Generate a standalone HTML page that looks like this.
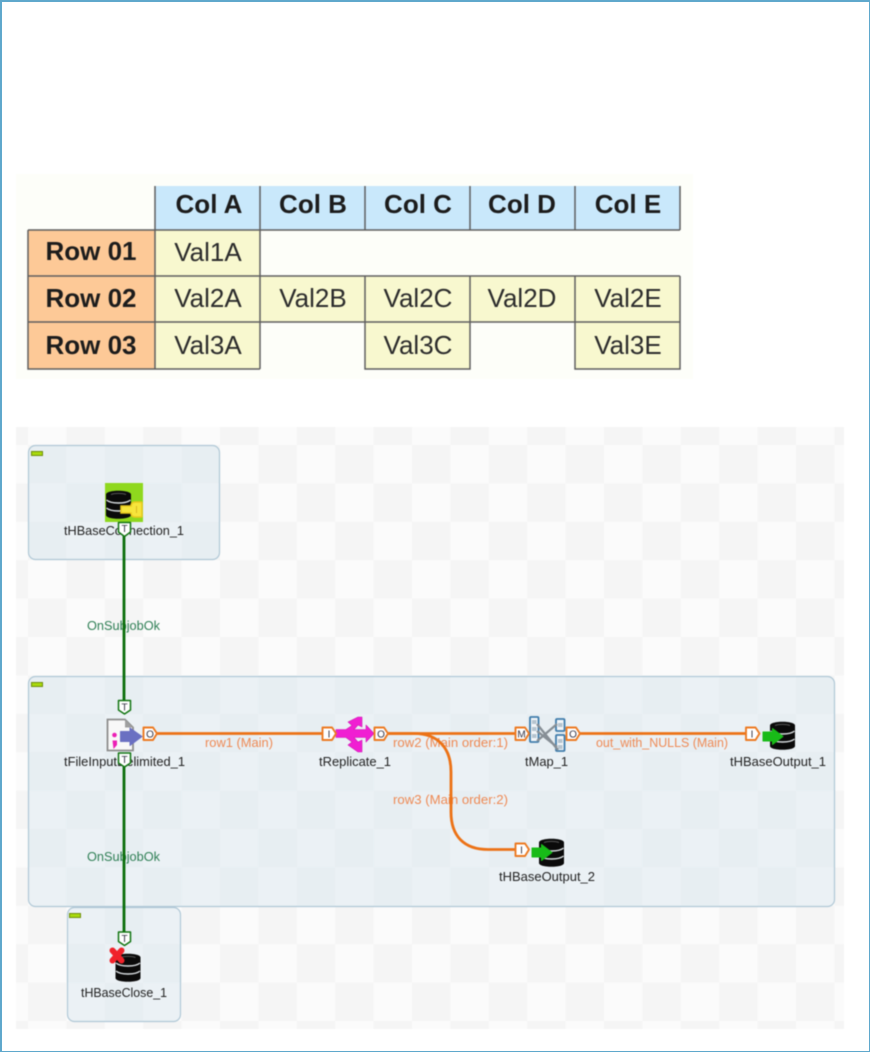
<!DOCTYPE html>
<html lang="en">
<head>
<meta charset="utf-8">
<title>HBase table and Talend job</title>
<style>
html,body{margin:0;padding:0;background:#fff;width:870px;height:1052px;overflow:hidden}
svg{display:block;font-family:"Liberation Sans",sans-serif}
.soft{filter:blur(.45px)}
.b{font-weight:bold;font-size:26px;fill:#1c1c1c;text-anchor:middle}
.v{font-size:26px;fill:#2c2c2c;text-anchor:middle}
.n{font-size:12.5px;fill:#222}
.o{font-size:12.5px;fill:#ee8a55}
.g{font-size:12.5px;fill:#2f7f55}
.p{font-size:10px;text-anchor:middle;fill:#334}
</style>
</head>
<body>
<svg width="870" height="1052" viewBox="0 0 870 1052" xmlns="http://www.w3.org/2000/svg">
<defs>
<pattern id="chk" x="28" y="445" width="76.8" height="76.8" patternUnits="userSpaceOnUse">
<rect width="76.8" height="76.8" fill="#fbfbfb"/>
<rect width="38.4" height="38.4" fill="#f5f5f5"/>
<rect x="38.4" y="38.4" width="38.4" height="38.4" fill="#f5f5f5"/>
</pattern>
<pattern id="chk2" x="28" y="445" width="76.8" height="76.8" patternUnits="userSpaceOnUse">
<rect width="76.8" height="76.8" fill="#ebf1f5"/>
<rect width="38.4" height="38.4" fill="#e7eef2"/>
<rect x="38.4" y="38.4" width="38.4" height="38.4" fill="#e7eef2"/>
</pattern>
<g id="db">
<path d="M0 4.500C0 -.5 25 -.5 25 4.500V25C25 30 0 30 0 25Z" fill="#0a0a0a"/>
<path d="M.5 10C5 14 20 14 24.500 10M.5 18C5 22 20 22 24.500 18" fill="none" stroke="#d8dde0" stroke-width="1.400"/>
<path d="M5 4.500C9 3 16 3 20 4.500" fill="none" stroke="#555" stroke-width="1"/>
</g>
<path id="arr" d="M0 -4.500H9.500V-8L20 0L9.500 8V4.500H0Z" fill="#18bb18" stroke="#18bb18" stroke-width="1" stroke-linejoin="round"/>
</defs>

<rect x="0" y="0" width="870" height="2" fill="#5fa8cc"/>
<rect x="0" y="0" width="2" height="1052" fill="#5fa8cc"/>
<rect x="869" y="0" width="1" height="1052" fill="#5fa8cc"/>
<rect x="0" y="1051" width="870" height="1" fill="#5fa8cc"/>

<g class="soft">
<!-- table -->
<rect x="16" y="174" width="677" height="205" fill="#fdfef9"/>
<rect x="155" y="186" width="525" height="44" fill="#c9e8fb"/>
<rect x="28" y="230" width="127" height="139" fill="#fdc997"/>
<rect x="155" y="230" width="105" height="139" fill="#f8f8cf"/>
<rect x="260" y="276" width="420" height="46" fill="#f8f8cf"/>
<rect x="365" y="322" width="105" height="47" fill="#f8f8cf"/>
<rect x="575" y="322" width="105" height="47" fill="#f8f8cf"/>
<g fill="none" stroke="#5f5f5f" stroke-width="1.500">
<path d="M155 186V369M260 186V369M365 186V230M470 186V230M575 186V230M680 186V230"/>
<path d="M28 230H680M28 276H680M28 322H680"/>
<path d="M28 230V369H260M365 276V369H470V276M575 276V369H680V276"/>
</g>
<text class="b" x="209" y="213">Col A</text>
<text class="b" x="313" y="213">Col B</text>
<text class="b" x="418" y="213">Col C</text>
<text class="b" x="522" y="213">Col D</text>
<text class="b" x="628" y="213">Col E</text>
<text class="b" x="91" y="260">Row 01</text>
<text class="b" x="91" y="307">Row 02</text>
<text class="b" x="91" y="354">Row 03</text>
<text class="v" x="208" y="261">Val1A</text>
<text class="v" x="208" y="307">Val2A</text>
<text class="v" x="313" y="307">Val2B</text>
<text class="v" x="418" y="307">Val2C</text>
<text class="v" x="522" y="307">Val2D</text>
<text class="v" x="628" y="307">Val2E</text>
<text class="v" x="208" y="354">Val3A</text>
<text class="v" x="418" y="354">Val3C</text>
<text class="v" x="628" y="354">Val3E</text>

<!-- job canvas -->
<rect x="16" y="427" width="828" height="602" fill="url(#chk)"/>
<g fill="url(#chk2)" stroke="#b0c8d6" stroke-width="1.200">
<rect x="28.500" y="445.500" width="191" height="114" rx="7"/>
<rect x="28.500" y="676.500" width="806" height="230" rx="7"/>
<rect x="67.500" y="907.500" width="113" height="114" rx="7"/>
</g>
<g fill="#a9da0c" stroke="#6f8f10" stroke-width="1">
<rect x="31.500" y="451.500" width="11" height="4"/>
<rect x="31.500" y="682.500" width="11" height="4"/>
<rect x="69.500" y="913.500" width="11" height="4"/>
</g>

<!-- node labels -->
<text class="n" x="64" y="535" textLength="120" lengthAdjust="spacingAndGlyphs">tHBaseConnection_1</text>
<text class="n" x="64" y="766" textLength="121" lengthAdjust="spacingAndGlyphs">tFileInputDelimited_1</text>
<text class="n" x="319" y="766" textLength="72" lengthAdjust="spacingAndGlyphs">tReplicate_1</text>
<text class="n" x="525" y="766" textLength="43" lengthAdjust="spacingAndGlyphs">tMap_1</text>
<text class="n" x="730" y="766" textLength="96" lengthAdjust="spacingAndGlyphs">tHBaseOutput_1</text>
<text class="n" x="499" y="881" textLength="96" lengthAdjust="spacingAndGlyphs">tHBaseOutput_2</text>
<text class="n" x="81" y="997" textLength="86" lengthAdjust="spacingAndGlyphs">tHBaseClose_1</text>

<!-- connector labels -->
<text class="g" x="87" y="630" textLength="73" lengthAdjust="spacingAndGlyphs">OnSubjobOk</text>
<text class="g" x="87" y="861" textLength="73" lengthAdjust="spacingAndGlyphs">OnSubjobOk</text>
<text class="o" x="205" y="747" textLength="68" lengthAdjust="spacingAndGlyphs">row1 (Main)</text>
<text class="o" x="393" y="747" textLength="115" lengthAdjust="spacingAndGlyphs">row2 (Main order:1)</text>
<text class="o" x="393" y="804" textLength="115" lengthAdjust="spacingAndGlyphs">row3 (Main order:2)</text>
<text class="o" x="596" y="747" textLength="132" lengthAdjust="spacingAndGlyphs">out_with_NULLS (Main)</text>

<!-- connectors -->
<g fill="none">
<path d="M124 530V703M124 760V935" stroke="#0b6e0b" stroke-width="2.800"/>
<path d="M157 733.500H322M388 733.500H515M580 733.500H746" stroke="#ec7216" stroke-width="2.800"/>
<path d="M388 733.500H414C438 733.500 451 748 451 772V812C451 836 464 849.500 488 849.500H515" stroke="#ec7216" stroke-width="2.800"/>
</g>

<!-- tHBaseConnection icon -->
<rect x="105" y="483" width="38" height="39" fill="#8fd81e"/>
<use href="#db" x="106" y="490"/>
<path d="M121 506H131C131 503 133 502 135 502H141Q142 502 142 503V516Q142 517 141 517H135C133 517 131 516 131 513H121Z" fill="#f6e53c" stroke="#e8c81c" stroke-width="1.500"/>
<rect x="136" y="506" width="1" height="7" fill="#d9b820"/>

<!-- tFileInputDelimited icon -->
<path d="M107.500 719.500H125L133 727.500V750.500H107.500Z" fill="#f8f8f8" stroke="#8d8d8d" stroke-width="1.800"/>
<path d="M125 719.500V727.500H133Z" fill="#9f9f9f"/>
<circle cx="114.500" cy="735" r="2.300" fill="#ec1fb5"/>
<path d="M112.500 740.500H117V745L113.500 749Z" fill="#ec1fb5"/>
<path d="M120.500 731.500H130V728L142 736.500L130 745.500V741.500H120.500Z" fill="#6a70c2" stroke="#6a70c2" stroke-linejoin="round"/>

<!-- tReplicate icon -->
<path d="M336 729.500H346L352 725.500L348 722L358 717H362V727L358 725L354 729.500H366V725L374 733.500L366 742V737.500H354L358 742L362 740V752H358L348 745L352 742L346 737.500H336Z" fill="#f01fd2" stroke="#d018b4" stroke-width=".6" stroke-linejoin="round"/>

<!-- tMap icon -->
<g fill="#f3f6f9" stroke="#3f7cab" stroke-width="1.800">
<rect x="530" y="717" width="8.500" height="25" rx="1"/>
<rect x="556" y="719" width="8.500" height="12" rx="1"/>
<rect x="556" y="735" width="8.500" height="16" rx="1"/>
</g>
<g fill="#b5c4cf">
<rect x="532" y="720" width="4.500" height="4"/><rect x="532" y="727" width="4.500" height="4"/><rect x="532" y="734" width="4.500" height="4"/>
<rect x="558" y="723" width="4.500" height="4"/><rect x="558" y="739" width="4.500" height="4"/><rect x="558" y="745" width="4.500" height="4"/>
</g>
<path d="M537 724L558 750M537 741L557 724M537 731L557 747" stroke="#868e95" stroke-width="2.200" fill="none"/>

<!-- tHBaseOutput icons -->
<use href="#db" x="770" y="721"/>
<use href="#arr" x="763" y="736.500"/>
<use href="#db" x="539" y="838"/>
<use href="#arr" x="532" y="852.500"/>

<!-- tHBaseClose icon -->
<use href="#db" x="115.500" y="953"/>
<path d="M112.500 950.500L121.500 960.500M121.500 950.500L112.500 960.500" stroke="#f0222a" stroke-width="6" stroke-linecap="round"/>

<!-- T ports -->
<g fill="#fff" stroke="#127512" stroke-width="1.500" stroke-linejoin="round">
<path d="M118.500 522.500H130.500V532L124.500 536.500L118.500 532Z"/>
<path d="M118.500 700.500H130.500V710L124.500 714L118.500 710Z"/>
<path d="M118.500 753H130.500V763L124.500 767L118.500 763Z"/>
<path d="M118.500 932H130.500V941.500L124.500 945.500L118.500 941.500Z"/>
</g>
<text class="p" x="124.500" y="532">T</text>
<text class="p" x="124.500" y="710.500">T</text>
<text class="p" x="124.500" y="763">T</text>
<text class="p" x="124.500" y="942">T</text>

<!-- data ports -->
<g fill="#fff" stroke="#ec7a22" stroke-width="1.900" stroke-linejoin="round">
<path d="M143.500 727.500H153L157 733.500L153 740H143.500Z"/>
<path d="M322.500 727.500H332L336 733.500L332 740H322.500Z"/>
<path d="M374.500 727.500H384L388 733.500L384 740H374.500Z"/>
<path d="M515.500 727.500H525L529 733.500L525 740H515.500Z"/>
<path d="M566.500 727.500H576L580 733.500L576 740H566.500Z"/>
<path d="M746 727.500H755.500L759.500 733.500L755.500 740H746Z"/>
<path d="M515.500 843.500H525L529 849.500L525 856H515.500Z"/>
</g>
<text class="p" x="150" y="737.500">O</text>
<text class="p" x="329" y="737.500">I</text>
<text class="p" x="381" y="737.500">O</text>
<text class="p" x="521.500" y="737.500">M</text>
<text class="p" x="573" y="737.500">O</text>
<text class="p" x="752" y="737.500">I</text>
<text class="p" x="521.500" y="853.500">I</text>
</g>
</svg>
</body>
</html>
